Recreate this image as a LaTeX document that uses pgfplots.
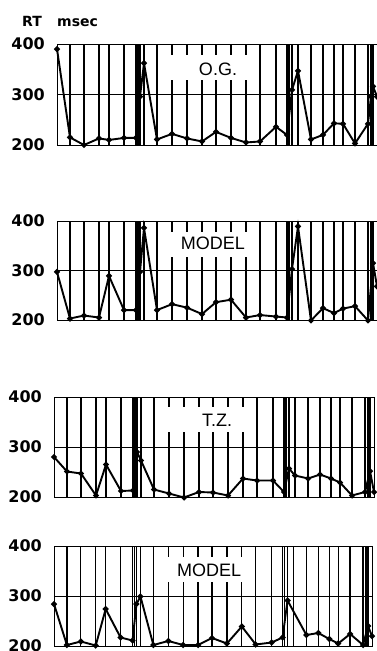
\documentclass[border=0pt]{standalone}
\usepackage{pgfplots}
\pgfplotsset{compat=1.18}
\usepackage{fontspec}
\setmainfont{Liberation Sans}
\newfontfamily\dejavu{DejaVu Sans}

\pgfplotsset{
  panel/.style={
    scale only axis, width=320pt,
    xmin=57, xmax=377, ymin=200, ymax=400,
    anchor=north west,
    xtick={70,84,99,109,124,136,138,140,144,157,172,187,202,216,231,246,260,276,287,289,292,298,311,323,334,343,355,368,371,373},
    xticklabels={}, xmajorgrids,
    major grid style={black, line width=1.3pt},
    ytick={200,300,400},
    extra y ticks={300}, extra y tick labels={},
    extra y tick style={grid=major, major grid style={black, line width=0.7pt}},
    major tick length=0pt, tick style={draw=none},
    axis line style={line width=0.9pt},
    yticklabel style={font=\dejavu\bfseries\fontsize{16}{16}\selectfont, xshift=-8.7pt},
    /pgf/number format/assume math mode=true,
    clip=false,
  },
  ser/.style={black, line width=1.9pt, mark=*, mark size=1.9pt, mark options={solid}},
}
\newcommand{\lab}[1]{\fontsize{18}{18}\selectfont #1}

\begin{document}
\begin{tikzpicture}
\useasboundingbox (0,0) rectangle (377pt,-651pt);
\node[anchor=base west, font=\dejavu\bfseries\fontsize{14}{14}\selectfont, inner sep=0pt] at (22pt,-26pt) {RT};
\node[anchor=base west, font=\dejavu\bfseries\fontsize{14}{14}\selectfont, inner sep=0pt] at (57pt,-26pt) {msec};

% Panel 1: O.G.
\begin{axis}[panel, at={(57pt,-44pt)}, height=101pt]
\fill[white] (axis cs:165,378) rectangle (axis cs:250,329);
\addplot[ser] coordinates {
(57,390) (70,215) (84,200) (99,213) (109,210) (124,214) (136,214) (140,296) (144,362)
(157,211) (172,222) (187,213) (202,207) (216,226) (231,214) (246,205) (260,207)
(276,236) (287,220) (292,309) (298,347) (311,211) (323,220) (334,243) (343,242)
(355,203) (368,242) (371,296) (373,316) (377,296)};
\node[font=\lab{}] at (axis cs:218,349) {O.G.};
\end{axis}

% Panel 2: MODEL
\begin{axis}[panel, at={(57pt,-221pt)}, height=99pt]
\fill[white] (axis cs:165,378) rectangle (axis cs:250,327);
\addplot[ser] coordinates {
(57,297) (70,203) (84,209) (99,205) (109,289) (124,220) (136,220) (140,297) (144,386)
(157,220) (172,232) (187,225) (202,212) (216,236) (231,241) (246,205) (260,210)
(276,207) (287,205) (292,303) (298,389) (311,199) (323,224) (334,214) (343,223)
(355,228) (368,199) (373,315) (377,268)};
\node[font=\lab{}] at (axis cs:213,355) {MODEL};
\end{axis}

% Panel 3: T.Z.
\begin{axis}[panel, at={(54pt,-397pt)}, height=100pt]
\fill[white] (axis cs:165,380) rectangle (axis cs:250,330);
\addplot[ser] coordinates {
(57,280) (70,251) (84,247) (99,203) (109,265) (124,212) (136,213) (140,290) (144,273)
(157,215) (172,207) (187,199) (202,210) (216,209) (231,203) (246,237) (260,233)
(276,233) (287,210) (292,257) (298,243) (311,237) (323,245) (334,237) (343,229)
(355,203) (368,210) (373,252) (377,210)};
\node[font=\lab{}] at (axis cs:220,354) {T.Z.};
\end{axis}

% Panel 4: MODEL
\begin{axis}[panel, at={(54pt,-546pt)}, height=100pt, width=318pt]
\fill[white] (axis cs:165,378) rectangle (axis cs:250,328);
\addplot[ser] coordinates {
(57,284) (70,202) (84,209) (99,201) (109,274) (124,217) (136,211) (140,284) (144,299)
(157,202) (172,210) (187,202) (202,202) (216,216) (231,205) (246,239) (260,203)
(276,207) (287,217) (292,291) (311,222) (323,226) (334,214) (343,205) (355,224)
(368,202) (373,240) (377,220)};
\node[font=\lab{}] at (axis cs:213,352) {MODEL};
\end{axis}
\end{tikzpicture}
\end{document}
